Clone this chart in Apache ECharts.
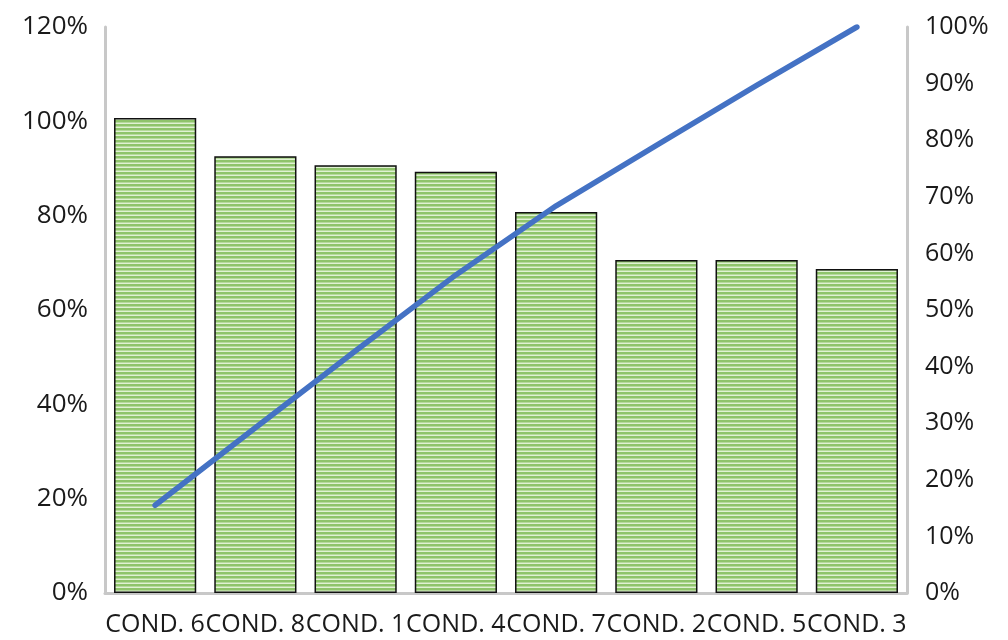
<!DOCTYPE html>
<html>
<head>
<meta charset="utf-8">
<script src="https://cdn.jsdelivr.net/npm/echarts@6/dist/echarts.min.js"></script>
<style>
html,body{margin:0;padding:0;background:#fff;}
#chart{width:1008px;height:640px;}
</style>
</head>
<body>
<div id="chart"></div>
<script>
var categories = ['COND. 6','COND. 8','COND. 1','COND. 4','COND. 7','COND. 2','COND. 5','COND. 3'];
var barValues = [100.7, 92.6, 90.7, 89.3, 80.8, 70.6, 70.6, 68.7];
var cumulativeValues = [15.5, 29.2, 42.8, 56.2, 68.4, 79.1, 89.7, 100];

function stripePattern() {
  var c = document.createElement('canvas');
  c.width = 4; c.height = 4;
  var ctx = c.getContext('2d');
  ctx.fillStyle = '#8fc46b'; ctx.fillRect(0, 0, 4, 2);
  ctx.fillStyle = '#b6da9c'; ctx.fillRect(0, 2, 4, 1);
  ctx.fillStyle = '#e0f1d4'; ctx.fillRect(0, 3, 4, 1);
  return c;
}

var chart = echarts.init(document.getElementById('chart'));
var font = '"Open Sans", "Noto Sans", sans-serif';
chart.setOption({
  animation: false,
  backgroundColor: '#ffffff',
  grid: {left: 105, right: 101, top: 27, bottom: 47, containLabel: false},
  xAxis: {
    type: 'category',
    data: categories,
    axisLine: {show: true, lineStyle: {color: '#c8c8c8', width: 3}},
    axisTick: {show: false},
    axisLabel: {color: '#1a1a1a', fontFamily: font, fontSize: 25, margin: 19, interval: 0}
  },
  yAxis: [
    {
      type: 'value', min: 0, max: 120, interval: 20,
      axisLine: {show: true, lineStyle: {color: '#c8c8c8', width: 3}},
      axisTick: {show: false},
      splitLine: {show: false},
      axisLabel: {color: '#1a1a1a', fontFamily: font, fontSize: 26, margin: 17, formatter: '{value}%'}
    },
    {
      type: 'value', min: 0, max: 100, interval: 10, position: 'right',
      axisLine: {show: true, lineStyle: {color: '#c8c8c8', width: 3}},
      axisTick: {show: false},
      splitLine: {show: false},
      axisLabel: {color: '#1a1a1a', fontFamily: font, fontSize: 25, margin: 18, formatter: '{value}%'}
    }
  ],
  series: [
    {
      type: 'bar',
      data: barValues,
      yAxisIndex: 0,
      barCategoryGap: '18%',
      itemStyle: {
        color: {image: stripePattern(), repeat: 'repeat'},
        borderColor: '#111',
        borderWidth: 1.5
      }
    },
    {
      type: 'line',
      data: cumulativeValues,
      yAxisIndex: 1,
      symbol: 'none',
      lineStyle: {color: '#4472c4', width: 5.5, cap: 'round', join: 'round'},
      z: 5
    }
  ]
});
</script>
</body>
</html>
